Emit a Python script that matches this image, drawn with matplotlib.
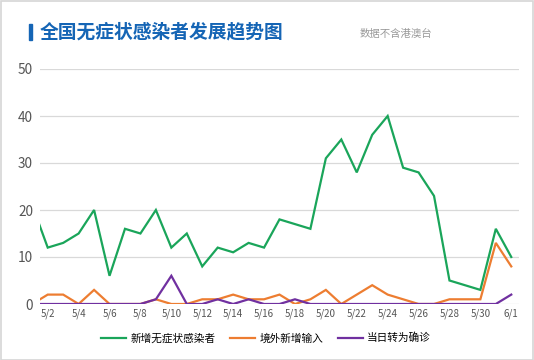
import matplotlib
matplotlib.use("Agg")
import matplotlib.pyplot as plt
from matplotlib.patches import Rectangle

plt.rcParams['font.family'] = ['Noto Sans CJK SC', 'DejaVu Sans']

# daily values, 5/1 .. 6/1
days = ["5/%d" % d for d in range(1, 32)] + ["6/1"]
asymptomatic = [21, 12, 13, 15, 20, 6, 16, 15, 20, 12, 15, 8, 12, 11, 13, 12,
                18, 17, 16, 31, 35, 28, 36, 40, 29, 28, 23, 5, 4, 3, 16, 10]
imported = [0, 2, 2, 0, 3, 0, 0, 0, 1, 0, 0, 1, 1, 2, 1, 1,
            2, 0, 1, 3, 0, 2, 4, 2, 1, 0, 0, 1, 1, 1, 13, 8]
confirmed = [0, 0, 0, 0, 0, 0, 0, 0, 1, 6, 0, 0, 1, 0, 1, 0,
             0, 1, 0, 0, 0, 0, 0, 0, 0, 0, 0, 0, 0, 0, 0, 2]
series_names = ["新增无症状感染者", "境外新增输入", "当日转为确诊"]
colors = ["#1aa55a", "#ed7d31", "#7030a0"]

W, H = 534, 360
fig = plt.figure(figsize=(W / 100, H / 100), dpi=100)
fig.patches.append(Rectangle((0.5 / W, 0.5 / H), 1 - 1.5 / W, 1 - 1.5 / H,
                             transform=fig.transFigure, fill=False,
                             edgecolor="#d6d6d6", linewidth=1.2))

ax = fig.add_axes([40 / W, 56 / H, 479 / W, 235 / H])
x = list(range(len(days)))
for vals, name, c in zip([asymptomatic, imported, confirmed], series_names, colors):
    ax.plot(x, vals, color=c, linewidth=1.6, label=name, solid_joinstyle="miter")

ax.set_xlim(0.5, 31.5)
ax.set_ylim(0, 50)
ax.set_yticks(range(0, 51, 10))
ax.set_xticks(x[1::2])
ax.set_xticklabels(days[1::2])
ax.grid(axis="y", color="#d9d9d9", linewidth=0.9)
ax.set_axisbelow(True)
for s in ax.spines.values():
    s.set_visible(False)
ax.tick_params(axis="y", length=0, pad=5, labelsize=9.8, labelcolor="#555555")
ax.tick_params(axis="x", length=0, pad=3, labelsize=7, labelcolor="#555555")

# title block
fig.patches.append(Rectangle((29 / W, 1 - 40 / H), 3 / W, 16 / H,
                             transform=fig.transFigure, color="#1565b5"))
fig.text(40 / W, 1 - 32 / H, "全国无症状感染者发展趋势图", fontsize=13.5,
         fontweight="bold", color="#1565b5", va="center", ha="left")
fig.text(360 / W, 1 - 34 / H, "数据不含港澳台", fontsize=7.5,
         color="#999999", va="center", ha="left")

fig.legend(loc="center", bbox_to_anchor=(266 / W, 1 - 338 / H), ncol=3,
           frameon=False, fontsize=7.7, handlelength=2.3, handletextpad=0.4,
           columnspacing=1.4)

fig.savefig("out.png", dpi=100)
